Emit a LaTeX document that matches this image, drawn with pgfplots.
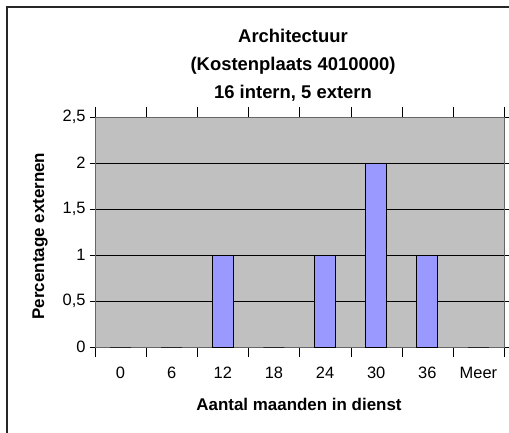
\documentclass[border=0pt]{standalone}
\usepackage{pgfplots}
\pgfplotsset{compat=1.18}
\usepackage{fontspec}
\setmainfont{Liberation Sans}
\definecolor{barfill}{HTML}{9999FF}
\definecolor{plotbg}{HTML}{C0C0C0}
\begin{document}
\begin{tikzpicture}[x=1bp,y=1bp]
\useasboundingbox (0,0) rectangle (509,432);
\begin{axis}[
  at={(95bp,85bp)}, anchor=south west,
  scale only axis, width=409bp, height=230bp,
  xmin=-0.5, xmax=7.5, ymin=0, ymax=2.5,
  axis background/.style={fill=plotbg},
  axis line style={draw=gray!80!black},
  xtick={0,...,7},
  xticklabels={0,6,12,18,24,30,36,Meer},
  major x tick style={draw=none},
  minor xtick={-0.5,0.5,...,7.5},
  minor x tick style={black},
  minor tick length=10bp,
  ytick={0,0.5,...,2.5},
  yticklabels={0,{0,5},1,{1,5},2,{2,5}},
  major tick length=10bp,
  tick align=center,
  y tick style={black},
  ymajorgrids, major grid style={black, line width=0.6pt},
  tick label style={font=\fontsize{16.5}{18}\selectfont},
  xticklabel style={anchor=center, yshift=-16bp},
  yticklabel style={anchor=east, xshift=-1bp},
  ybar, bar width=21bp,
  clip=false,
]
\addplot[fill=barfill, draw=black, line width=0.8pt] coordinates {
  (0,0) (1,0) (2,1) (3,0) (4,1) (5,2) (6,1) (7,0)
};
\end{axis}
\node[font=\fontsize{18.5}{28}\selectfont\bfseries, align=center] at (293,367)
  {Architectuur\\(Kostenplaats 4010000)\\16 intern, 5 extern};
\node[font=\fontsize{17}{19}\selectfont\bfseries] at (299,28) {Aantal maanden in dienst};
\node[font=\fontsize{17}{19}\selectfont\bfseries, rotate=90] at (40,196) {Percentage externen};
\draw[line width=1.8bp, black!85] (7,-20) -- (7,425) -- (530,425);
\end{tikzpicture}
\end{document}
